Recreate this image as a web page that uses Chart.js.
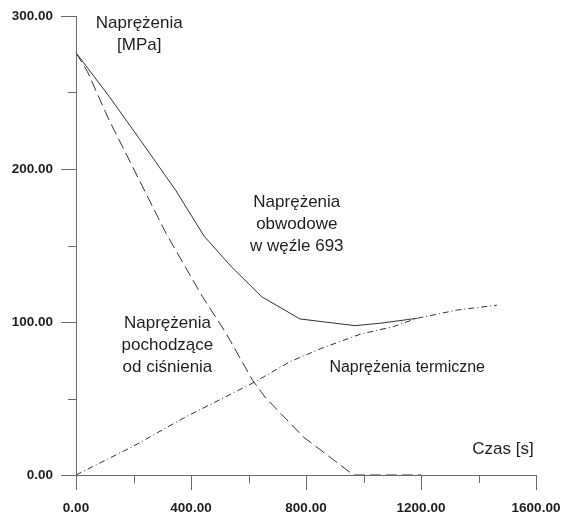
<!DOCTYPE html>
<html>
<head>
<meta charset="utf-8">
<script src="https://cdn.jsdelivr.net/npm/chart.js@4"></script>
<style>
  html, body { margin: 0; padding: 0; background: #fff; }
  #wrap { width: 562px; height: 515px; }
</style>
</head>
<body>
<div id="wrap"><canvas id="wykres"></canvas></div>
<script>
// czas [s] i naprężenia [MPa]
const czasObw = [0, 115, 231, 347, 446, 541, 646, 779, 971, 1058, 1186];
const napObw = [276, 247.5, 217, 186, 156, 136, 116.5, 102, 97.6, 99.2, 102.4];

const czasCisn = [0, 40, 115, 313, 440, 522, 614, 657, 790, 965, 1200];
const napCisn = [276, 263.6, 232, 158, 116.5, 92.6, 62, 51, 25, 0, 0];

const czasTerm = [0, 196, 382, 614, 744, 850, 988, 1104, 1186, 1325, 1464];
const napTerm = [0, 18.5, 38, 60, 74, 82.5, 92, 97, 102.4, 107.8, 111];

const xTicks = [0, 400, 800, 1200, 1600];
const yTicks = [0, 100, 200, 300];

// opisy krzywych: [linie tekstu, x, y, rozmiar czcionki]
const opisy = [
    [["Naprężenia", "[MPa]"], 220, 295, 17],
    [["Naprężenia", "obwodowe", "w węźle 693"], 768, 178, 17],
    [["Naprężenia", "pochodzące", "od ciśnienia"], 318, 99, 17],
    [["Naprężenia termiczne"], 1152, 70, 16],
    [["Czas [s]"], 1485, 17, 17]
];

const kolorLinii = "#333333";
const kolorOsi = "#6a6a6a";

function punkty(xs, ys) {
    return xs.map((x, i) => ({ x: x, y: ys[i] }));
}

// bez dodatkowych marginesów od etykiet, obszar wykresu ustala layout.padding
function bezMarginesow(s) {
    s.paddingTop = 0;
    s.paddingBottom = 0;
    s.paddingLeft = 0;
    s.paddingRight = 0;
}

// osie z długimi i krótkimi kreskami oraz opisy
const osiePlugin = {
    id: "osie",
    afterDraw(chart) {
        const ctx = chart.ctx;
        const sx = chart.scales.x;
        const sy = chart.scales.y;
        const x0 = sx.getPixelForValue(0);
        const y0 = sy.getPixelForValue(0);

        ctx.save();
        ctx.strokeStyle = kolorOsi;
        ctx.lineWidth = 1;
        ctx.beginPath();
        // oś y
        ctx.moveTo(x0 + 0.5, sy.getPixelForValue(300));
        ctx.lineTo(x0 + 0.5, y0 + 15);
        // oś x
        ctx.moveTo(x0 - 15, y0 + 0.5);
        ctx.lineTo(sx.getPixelForValue(1600), y0 + 0.5);
        for (let v = 50; v <= 300; v += 50) {
            const py = Math.round(sy.getPixelForValue(v)) + 0.5;
            const len = v % 100 === 0 ? 15 : 8;
            ctx.moveTo(x0 - len, py);
            ctx.lineTo(x0, py);
        }
        for (let v = 200; v <= 1600; v += 200) {
            const px = Math.round(sx.getPixelForValue(v)) + 0.5;
            const len = v % 400 === 0 ? 15 : 8;
            ctx.moveTo(px, y0);
            ctx.lineTo(px, y0 + len);
        }
        ctx.stroke();

        ctx.fillStyle = "#1e1e1e";
        ctx.textAlign = "center";
        ctx.textBaseline = "middle";
        opisy.forEach(([linie, x, y, rozmiar]) => {
            ctx.font = rozmiar + "px 'Liberation Sans', Arial, sans-serif";
            const px = sx.getPixelForValue(x);
            const py = sy.getPixelForValue(y);
            linie.forEach((t, i) => ctx.fillText(t, px, py + i * 22));
        });
        ctx.restore();
    }
};

const fontTick = { family: "'Liberation Sans', Arial, sans-serif", size: 13.5, weight: "bold" };

new Chart(document.getElementById("wykres"), {
    type: "line",
    data: {
        datasets: [
            {
                label: "Naprężenia obwodowe",
                data: punkty(czasObw, napObw),
                borderColor: kolorLinii,
                borderWidth: 1,
                pointRadius: 0,
                tension: 0
            },
            {
                label: "Naprężenia od ciśnienia",
                data: punkty(czasCisn, napCisn),
                borderColor: kolorLinii,
                borderWidth: 1,
                borderDash: [11, 5],
                pointRadius: 0,
                tension: 0
            },
            {
                label: "Naprężenia termiczne",
                data: punkty(czasTerm, napTerm),
                borderColor: kolorLinii,
                borderWidth: 1,
                borderDash: [6, 3, 1, 3],
                pointRadius: 0,
                tension: 0
            }
        ]
    },
    options: {
        responsive: true,
        maintainAspectRatio: false,
        animation: false,
        clip: false,
        layout: { padding: { top: 16, right: 26, left: 0, bottom: 0 } },
        plugins: {
            legend: { display: false },
            tooltip: { enabled: false }
        },
        scales: {
            x: {
                type: "linear",
                min: 0,
                max: 1600,
                afterFit: (s) => { s.height = 40; bezMarginesow(s); },
                afterBuildTicks: (s) => { s.ticks = xTicks.map(v => ({ value: v })); },
                grid: { display: false, drawTicks: false },
                border: { display: false },
                ticks: {
                    padding: 25,
                    color: "#1e1e1e",
                    font: fontTick,
                    maxRotation: 0,
                    callback: (v) => v.toFixed(2)
                }
            },
            y: {
                type: "linear",
                min: 0,
                max: 300,
                afterFit: (s) => { s.width = 76; bezMarginesow(s); },
                afterBuildTicks: (s) => { s.ticks = yTicks.map(v => ({ value: v })); },
                grid: { display: false, drawTicks: false },
                border: { display: false },
                ticks: {
                    padding: 23,
                    color: "#1e1e1e",
                    font: fontTick,
                    callback: (v) => v.toFixed(2)
                }
            }
        }
    },
    plugins: [osiePlugin]
});
</script>
</body>
</html>
